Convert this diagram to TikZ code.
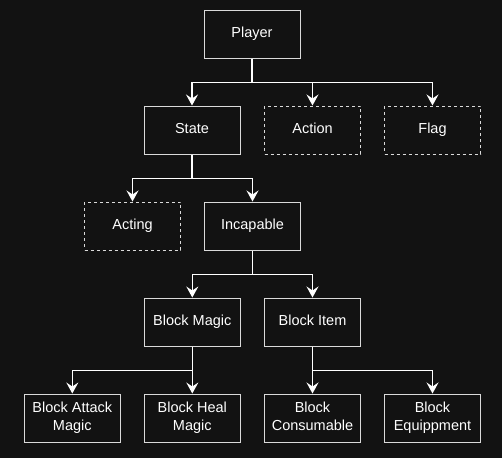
\documentclass[tikz,border=0pt]{standalone}
\usepackage{fontspec}
\setmainfont{Liberation Sans}
\usetikzlibrary{arrows.meta}
\definecolor{bg}{HTML}{121212}
\definecolor{edge}{HTML}{DADADA}
\newcommand\mystr{\rule[-3.5pt]{0pt}{14pt}}
\begin{document}
\begin{tikzpicture}[x=1pt,y=-1pt,
  box/.style={draw=edge,fill=bg,line width=1pt,minimum width=96pt,minimum height=48pt,
    text=white,align=center,font=\fontsize{14.5}{17.7}\selectfont,inner sep=0pt},
  dbox/.style={box,dash pattern=on 3pt off 3pt},
  arr/.style={draw=white,line width=1.3pt,-{Stealth[length=11pt,width=12pt,inset=4pt]}}]
\fill[bg] (0,0) rectangle (502,458);
\useasboundingbox (0,0) rectangle (502,458);
\node[box] (player) at (252,34) {\mystr Player};
\node[box] (state) at (192,130) {\mystr State};
\node[dbox] (action) at (312.5,130) {\mystr Action};
\node[dbox] (flag) at (432.5,130) {\mystr Flag};
\node[dbox] (acting) at (132.5,226) {\mystr Acting};
\node[box] (incap) at (252.5,226) {\mystr Incapable};
\node[box] (bmagic) at (192.3,322) {\mystr Block Magic};
\node[box] (bitem) at (312.5,322) {\mystr Block Item};
\node[box] (batk) at (72.3,418) {\mystr Block Attack\\\mystr Magic};
\node[box] (bheal) at (192.3,418) {\mystr Block Heal\\\mystr Magic};
\node[box] (bcons) at (312.5,418) {\mystr Block\\\mystr Consumable};
\node[box] (bequ) at (432.5,418) {\mystr Block\\\mystr Equippment};
\draw[arr] (player.south) -- ++(0,24) -| (state.north);
\draw[arr] (player.south) -- ++(0,24) -| (action.north);
\draw[arr] (player.south) -- ++(0,24) -| (flag.north);
\draw[arr] (state.south) -- ++(0,24) -| (acting.north);
\draw[arr] (state.south) -- ++(0,24) -| (incap.north);
\draw[arr] (incap.south) -- ++(0,24) -| (bmagic.north);
\draw[arr] (incap.south) -- ++(0,24) -| (bitem.north);
\draw[arr] (bmagic.south) -- ++(0,24) -| (batk.north);
\draw[arr] (bmagic.south) -- ++(0,24) -| (bheal.north);
\draw[arr] (bitem.south) -- ++(0,24) -| (bcons.north);
\draw[arr] (bitem.south) -- ++(0,24) -| (bequ.north);
\end{tikzpicture}
\end{document}
